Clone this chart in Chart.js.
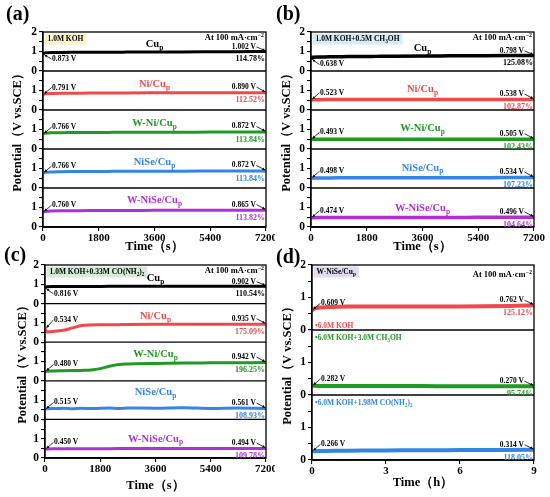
<!DOCTYPE html>
<html>
<head>
<meta charset="utf-8">
<script src="https://cdn.jsdelivr.net/npm/chart.js@4.4.1/dist/chart.umd.min.js"></script>
<style>
  html, body { margin: 0; padding: 0; background: #fff; }
  #wrap { position: relative; width: 550px; height: 497px; overflow: hidden; }
  canvas { position: absolute; }
</style>
</head>
<body>
<div id="wrap">
  <canvas id="pa" width="275" height="254" style="left:0;top:0"></canvas>
  <canvas id="pb" width="275" height="254" style="left:275px;top:0"></canvas>
  <canvas id="pc" width="275" height="257" style="left:0;top:240px"></canvas>
  <canvas id="pd" width="275" height="257" style="left:275px;top:240px"></canvas>
</div>
<script>
const FONT = '"Liberation Serif", "Times New Roman", serif';
const RED = '#f0494b', GREEN = '#1f9a22', BLUE = '#3385e6', PURPLE = '#b42ed6', BLACK = '#000';

// time axes
const timeSec = [0, 60, 300, 600, 900, 1200, 1500, 1800, 2100, 2400, 2700, 3600, 4500, 5400, 6300, 7200];
const timeHour = [0, 0.1, 0.3, 0.6, 1, 1.5, 2, 3, 4, 5, 6, 7, 8, 9];
const secTicks = [0, 1800, 3600, 5400, 7200];
const hourTicks = [0, 3, 6, 9];
const potTicks = [0, 1, 2];

const catalysts = ['Cu_{p}', 'Ni/Cu_{p}', 'W-Ni/Cu_{p}', 'NiSe/Cu_{p}', 'W-NiSe/Cu_{p}'];

// (a) 1.0M KOH
const aCu    = [0.873, 0.93, 0.95, 0.955, 0.958, 0.96, 0.962, 0.964, 0.965, 0.966, 0.968, 0.972, 0.978, 0.985, 0.992, 1.002];
const aNi    = [0.791, 0.83, 0.85, 0.858, 0.862, 0.865, 0.867, 0.869, 0.871, 0.873, 0.875, 0.879, 0.882, 0.885, 0.888, 0.890];
const aWNi   = [0.766, 0.81, 0.83, 0.838, 0.842, 0.845, 0.848, 0.85, 0.852, 0.854, 0.856, 0.86, 0.863, 0.866, 0.869, 0.872];
const aNiSe  = [0.766, 0.80, 0.825, 0.834, 0.84, 0.844, 0.847, 0.85, 0.852, 0.854, 0.856, 0.86, 0.864, 0.867, 0.87, 0.872];
const aWNiSe = [0.760, 0.80, 0.82, 0.828, 0.833, 0.837, 0.84, 0.843, 0.845, 0.847, 0.849, 0.853, 0.857, 0.86, 0.863, 0.865];
const aStart = ['0.873 V', '0.791 V', '0.766 V', '0.766 V', '0.760 V'];
const aEnd   = ['1.002 V', '0.890 V', '0.872 V', '0.872 V', '0.865 V'];
const aPct   = ['114.78%', '112.52%', '113.84%', '113.84%', '113.82%'];

// (b) 1.0M KOH + 0.5M CH3OH
const bCu    = [0.638, 0.70, 0.72, 0.728, 0.733, 0.738, 0.742, 0.746, 0.75, 0.754, 0.758, 0.768, 0.776, 0.784, 0.792, 0.798];
const bNi    = [0.523, 0.53, 0.532, 0.533, 0.534, 0.534, 0.535, 0.535, 0.535, 0.536, 0.536, 0.536, 0.537, 0.537, 0.538, 0.538];
const bWNi   = [0.493, 0.498, 0.5, 0.5, 0.501, 0.501, 0.502, 0.502, 0.502, 0.503, 0.503, 0.503, 0.504, 0.504, 0.505, 0.505];
const bNiSe  = [0.498, 0.51, 0.515, 0.518, 0.52, 0.521, 0.522, 0.523, 0.524, 0.525, 0.526, 0.528, 0.53, 0.531, 0.533, 0.534];
const bWNiSe = [0.474, 0.48, 0.483, 0.485, 0.486, 0.487, 0.488, 0.489, 0.49, 0.49, 0.491, 0.492, 0.493, 0.494, 0.495, 0.496];
const bStart = ['0.638 V', '0.523 V', '0.493 V', '0.498 V', '0.474 V'];
const bEnd   = ['0.798 V', '0.538 V', '0.505 V', '0.534 V', '0.496 V'];
const bPct   = ['125.08%', '102.87%', '102.43%', '107.23%', '104.64%'];

// (c) 1.0M KOH + 0.33M CO(NH2)2
const cCu    = [0.816, 0.87, 0.88, 0.885, 0.888, 0.89, 0.89, 0.892, 0.893, 0.894, 0.895, 0.896, 0.898, 0.9, 0.901, 0.902];
const cNi    = [0.70, 0.534, 0.56, 0.62, 0.74, 0.86, 0.89, 0.9, 0.905, 0.91, 0.915, 0.925, 0.93, 0.932, 0.934, 0.935];
const cWNi   = [0.48, 0.5, 0.51, 0.52, 0.53, 0.54, 0.56, 0.63, 0.75, 0.84, 0.87, 0.9, 0.92, 0.93, 0.94, 0.942];
const cNiSe  = [0.515, 0.55, 0.56, 0.575, 0.55, 0.58, 0.56, 0.575, 0.585, 0.56, 0.59, 0.58, 0.6, 0.57, 0.59, 0.561];
const cWNiSe = [0.45, 0.47, 0.475, 0.478, 0.48, 0.482, 0.483, 0.484, 0.485, 0.486, 0.487, 0.489, 0.49, 0.492, 0.493, 0.494];
const cStart = ['0.816 V', '0.534 V', '0.480 V', '0.515 V', '0.450 V'];
const cEnd   = ['0.902 V', '0.935 V', '0.942 V', '0.561 V', '0.494 V'];
const cPct   = ['110.54%', '175.09%', '196.25%', '108.93%', '109.78%'];

// (d) W-NiSe/Cup in concentrated electrolytes, hours
const electrolytes = ['•6.0M KOH', '•6.0M KOH+3.0M CH_{3}OH', '•6.0M KOH+1.98M CO(NH_{2})_{2}'];
const dKOH  = [0.609, 0.66, 0.69, 0.705, 0.715, 0.72, 0.722, 0.724, 0.722, 0.72, 0.722, 0.728, 0.74, 0.762];
const dMeOH = [0.282, 0.281, 0.28, 0.279, 0.278, 0.277, 0.276, 0.275, 0.274, 0.273, 0.272, 0.271, 0.271, 0.270];
const dUrea = [0.266, 0.27, 0.275, 0.28, 0.284, 0.288, 0.291, 0.295, 0.298, 0.301, 0.304, 0.307, 0.31, 0.314];
const dStart = ['0.609 V', '0.282 V', '0.266 V'];
const dEnd   = ['0.762 V', '0.270 V', '0.314 V'];
const dPct   = ['125.12%', '95.74%', '118.05%'];

// ---------- drawing helpers ----------
function richParts(s) {
  const out = []; const re = /([_^])\{([^}]*)\}/g; let last = 0, m;
  while ((m = re.exec(s))) {
    if (m.index > last) out.push({t: s.slice(last, m.index), k: 0});
    out.push({t: m[2], k: m[1] === '_' ? 1 : -1});
    last = re.lastIndex;
  }
  if (last < s.length) out.push({t: s.slice(last), k: 0});
  return out;
}
function drawRich(ctx, s, x, y, size, color, align) {
  const parts = richParts(s);
  const f = sz => `bold ${sz}px ${FONT}`;
  let w = 0;
  parts.forEach(p => { ctx.font = f(p.k ? size * 0.7 : size); p.w = ctx.measureText(p.t).width; w += p.w; });
  let cx = align === 'right' ? x - w : align === 'center' ? x - w / 2 : x;
  ctx.fillStyle = color; ctx.textBaseline = 'middle'; ctx.textAlign = 'left';
  parts.forEach(p => {
    ctx.font = f(p.k ? size * 0.7 : size);
    ctx.fillText(p.t, cx, y + p.k * size * 0.35);
    cx += p.w;
  });
  return w;
}
function arrow(ctx, x1, y1, x2, y2) {
  ctx.strokeStyle = '#000'; ctx.lineWidth = 0.8;
  ctx.beginPath(); ctx.moveTo(x1, y1); ctx.lineTo(x2, y2); ctx.stroke();
  const a = Math.atan2(y2 - y1, x2 - x1), h = 3;
  ctx.beginPath();
  ctx.moveTo(x2, y2);
  ctx.lineTo(x2 - h * Math.cos(a - 0.5), y2 - h * Math.sin(a - 0.5));
  ctx.lineTo(x2 - h * Math.cos(a + 0.5), y2 - h * Math.sin(a + 0.5));
  ctx.closePath(); ctx.fillStyle = '#000'; ctx.fill();
}

// frame, labels and arrows for one panel
const deco = {
  id: 'deco',
  afterDraw(chart, args, o) {
    const ctx = chart.ctx, ca = chart.chartArea, xs = chart.scales.x;
    ctx.save();
    // frame and separators
    ctx.strokeStyle = '#000'; ctx.lineWidth = 1.3;
    ctx.strokeRect(ca.left, ca.top, ca.right - ca.left, ca.bottom - ca.top);
    o.subs.forEach((s, i) => {
      const ys = chart.scales['y' + i];
      ctx.beginPath(); ctx.moveTo(ca.left, ys.bottom); ctx.lineTo(ca.right, ys.bottom); ctx.stroke();
    });
    // panel letter
    ctx.fillStyle = '#000'; ctx.font = `bold 20px ${FONT}`; ctx.textAlign = 'left'; ctx.textBaseline = 'middle';
    ctx.fillText(o.letter, o.letterX, o.letterY);
    // y title
    ctx.save();
    ctx.translate(ca.left - o.yTitleDx, (ca.top + ca.bottom) / 2);
    ctx.rotate(-Math.PI / 2);
    ctx.font = `bold 12.5px ${FONT}`; ctx.textAlign = 'center';
    ctx.fillText('Potential（V vs.SCE）', 0, 0);
    ctx.restore();
    // electrolyte badge
    const bw = drawRich(ctx, o.badge, -1000, -1000, 7.5, '#000', 'left');
    ctx.fillStyle = o.badgeBg;
    ctx.fillRect(ca.left + 1.5, ca.top + 1.5, bw + 6, 11);
    drawRich(ctx, o.badge, ca.left + 4.5, ca.top + 7, 7.5, '#000', 'left');
    // current density
    drawRich(ctx, 'At 100 mA·cm^{−2}', ca.right - 2, ca.top + o.noteDy, 8.5, '#000', 'right');
    // per sub-panel notes
    o.subs.forEach((s, i) => {
      const ys = chart.scales['y' + i];
      const vals = s.values;
      if (s.name) drawRich(ctx, s.name, (ca.left + ca.right) / 2 + (s.nameDx || 0), ys.getPixelForValue(s.nameY), 10.5, s.color, 'center');
      if (s.legend) drawRich(ctx, s.legend, ca.left + 3, ys.getPixelForValue(s.legendY), 7.5, s.color, 'left');
      const x0 = xs.getPixelForValue(o.times[0]), y0 = ys.getPixelForValue(vals[0]);
      const sdy = s.startDy;
      drawRich(ctx, s.start, x0 + 9, y0 + sdy, 7.5, '#000', 'left');
      arrow(ctx, x0 + 8.5, y0 + sdy, x0 + 1.5, y0 + (sdy > 0 ? 1 : -1));
      const n = vals.length - 1;
      const xe = xs.getPixelForValue(o.times[n]), ye = ys.getPixelForValue(vals[n]);
      const edy = s.endDy;
      drawRich(ctx, s.end, xe - 10, ye + edy, 7.5, '#000', 'right');
      arrow(ctx, xe - 9.5, ye + edy, xe - 1, ye - 1);
      drawRich(ctx, s.pct, xe - 1, ye + s.pctDy, 8, s.pctColor, 'right');
    });
    ctx.restore();
  }
};

function yAxis(i) {
  return {
    type: 'linear', position: 'left', stack: 'pot', stackWeight: 1, min: 0, max: 2,
    afterBuildTicks: s => { s.ticks = [0, 0.5, 1, 1.5, 2].map(v => ({value: v})); },
    ticks: {
      font: {family: FONT, size: 11.5, weight: 'bold'}, color: '#000', padding: 2, autoSkip: false,
      callback: v => (potTicks.includes(v) && (v < 2 || i === 0)) ? String(v) : ''
    },
    grid: {drawOnChartArea: false, drawTicks: true, tickLength: 4, color: '#000', lineWidth: 1.1},
    border: {display: true, color: '#000', width: 1.3},
    afterFit: s => { s.width = 20; s.paddingTop = 0; s.paddingBottom = 0; }
  };
}

function buildPanel(id, p) {
  const scales = {
    x: {
      type: 'linear', min: p.tickVals[0], max: p.tickVals[p.tickVals.length - 1],
      afterBuildTicks: s => { s.ticks = p.tickVals.map(v => ({value: v})); },
      ticks: {font: {family: FONT, size: 11, weight: 'bold'}, color: '#000', padding: 1, maxRotation: 0, autoSkip: false,
        callback: v => String(v)},
      grid: {drawOnChartArea: false, drawTicks: true, tickLength: 4, color: '#000', lineWidth: 1.1},
      border: {display: true, color: '#000', width: 1.3},
      title: {display: true, text: p.xTitle, font: {family: FONT, size: 12.5, weight: 'bold'}, color: '#000', padding: 0},
      afterFit: s => { s.height = p.xH; s.paddingLeft = 0; s.paddingRight = 0; }
    }
  };
  // stacked left axes are laid out bottom-up, so add the bottom one first
  for (let i = p.subs.length - 1; i >= 0; i--) scales['y' + i] = yAxis(i);
  const datasets = p.subs.map((s, i) => ({
    data: p.times.map((t, k) => ({x: t, y: s.values[k]})),
    yAxisID: 'y' + i, borderColor: s.color, borderWidth: p.lineW,
    pointRadius: 0, cubicInterpolationMode: 'monotone', fill: false
  }));
  new Chart(document.getElementById(id), {
    type: 'line',
    data: {datasets},
    options: {
      responsive: false, animation: false, events: [],
      layout: {autoPadding: false, padding: p.pad},
      plugins: {legend: {display: false}, tooltip: {enabled: false}, deco: p},
      scales
    },
    plugins: [deco]
  });
}

const colorsFive = [BLACK, RED, GREEN, BLUE, PURPLE];
function subsFrom(values, starts, ends, pcts, nameY, startDy, pctColors) {
  return values.map((v, i) => ({
    name: catalysts[i], color: colorsFive[i], values: v, start: starts[i], end: ends[i], pct: pcts[i],
    nameY: nameY[i], startDy: startDy[i], endDy: i === 0 ? -4.5 : -5.5, pctDy: 7.5,
    pctColor: pctColors ? pctColors[i] : colorsFive[i]
  }));
}

buildPanel('pa', {
  letter: '(a)', letterX: 6, letterY: 15, yTitleDx: 25, noteDy: 6,
  badge: '1.0M KOH', badgeBg: '#fbf4c6',
  times: timeSec, tickVals: secTicks, xTitle: 'Time（s）', xH: 27, lineW: 3,
  pad: {left: 23, right: 9, top: 32, bottom: 0},
  subs: subsFrom([aCu, aNi, aWNi, aNiSe, aWNiSe], aStart, aEnd, aPct,
    [1.38, 1.33, 1.33, 1.33, 1.38], [5, -7, -7, -7, -7], [BLACK, RED, GREEN, BLUE, PURPLE])
});

buildPanel('pb', {
  letter: '(b)', letterX: 1, letterY: 15, yTitleDx: 24, noteDy: 6,
  badge: '1.0M KOH+0.5M CH_{3}OH', badgeBg: '#d5ecf4',
  times: timeSec, tickVals: secTicks, xTitle: 'Time（s）', xH: 27, lineW: 3.5,
  pad: {left: 16, right: 16, top: 32, bottom: 0},
  subs: subsFrom([bCu, bNi, bWNi, bNiSe, bWNiSe], bStart, bEnd, bPct,
    [1.18, 1.08, 1.08, 1.03, 0.97], [6, -7, -7, -7, -7])
});

buildPanel('pc', {
  letter: '(c)', letterX: 4, letterY: 16, yTitleDx: 22, noteDy: 6,
  badge: '1.0M KOH+0.33M CO(NH_{2})_{2}', badgeBg: '#d6ecd6',
  times: timeSec, tickVals: secTicks, xTitle: 'Time（s）', xH: 35, lineW: 3,
  pad: {left: 25, right: 9, top: 25, bottom: 4},
  subs: subsFrom([cCu, cNi, cWNi, cNiSe, cWNiSe], cStart, cEnd, cPct,
    [1.3, 1.36, 1.39, 1.42, 0.99], [6, -9, -7, -7, -7])
});

const dColors = [RED, GREEN, BLUE];
buildPanel('pd', {
  letter: '(d)', letterX: 1, letterY: 18, yTitleDx: 24, noteDy: 10,
  badge: 'W-NiSe/Cu_{p}', badgeBg: '#e4d9ee',
  times: timeHour, tickVals: hourTicks, xTitle: 'Time（h）', xH: 30, lineW: 4,
  pad: {left: 17, right: 16, top: 25, bottom: 7},
  subs: [dKOH, dMeOH, dUrea].map((v, i) => ({
    legend: electrolytes[i], legendY: i === 0 ? 0.12 : 1.74, color: dColors[i], values: v,
    start: dStart[i], end: dEnd[i], pct: dPct[i], startDy: -7, endDy: -5, pctDy: 8, pctColor: dColors[i]
  }))
});
</script>
</body>
</html>
